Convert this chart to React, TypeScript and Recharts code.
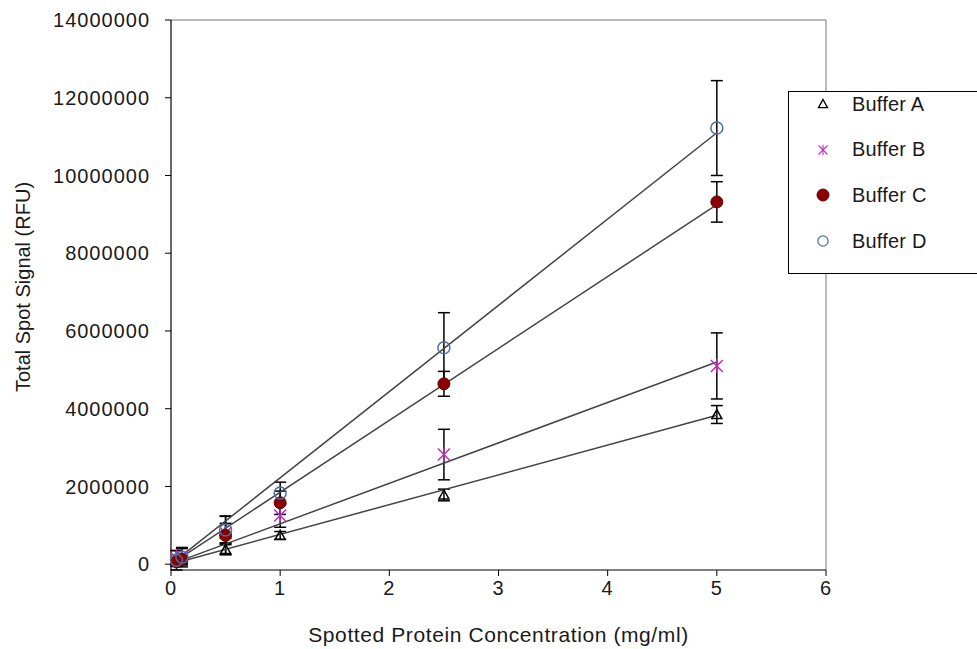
import React from 'react';
import {
  ComposedChart, Scatter, XAxis, YAxis, ErrorBar, ReferenceLine, Legend,
} from 'recharts';

const concentrations = [0.05, 0.1, 0.5, 1, 2.5, 5];

const bufferA = [40000, 80000, 380000, 740000, 1780000, 3850000];
const bufferAErr = [60000, 80000, 120000, 100000, 150000, 230000];
const bufferB = [150000, 200000, 800000, 1250000, 2820000, 5100000];
const bufferBErr = [200000, 200000, 250000, 300000, 650000, 850000];
const bufferC = [60000, 120000, 740000, 1580000, 4640000, 9320000];
const bufferCErr = [80000, 100000, 500000, 300000, 320000, 520000];
const bufferD = [100000, 180000, 880000, 1830000, 5570000, 11220000];
const bufferDErr = [250000, 250000, 350000, 280000, 900000, 1220000];

const fitX = [0, 5];
const fitA = [0, 3830000];
const fitB = [0, 5200000];
const fitC = [0, 9250000];
const fitD = [0, 11100000];

const xTicks = [0, 1, 2, 3, 4, 5, 6];
const yTicks = [0, 2000000, 4000000, 6000000, 8000000, 10000000, 12000000, 14000000];

const seriesNames = ['Buffer A', 'Buffer B', 'Buffer C', 'Buffer D'];

const build = (ys: number[], es: number[]) =>
  concentrations.map((x, i) => ({ x, y: ys[i], e: es[i] }));
const buildFit = (ys: number[]) => fitX.map((x, i) => ({ x, y: ys[i] }));

const FONT = '"Liberation Sans", Arial, sans-serif';
const TEXT = '#1a1a1a';

const Tri = ({ cx, cy }: any) => (
  <path d={`M${cx},${cy - 5} L${cx + 5},${cy + 4} L${cx - 5},${cy + 4} Z`} fill="none" stroke="#000" strokeWidth={1.5} />
);
const Star = ({ cx, cy }: any) => (
  <g stroke="#b530b5" strokeWidth={1.5}>
    <line x1={cx - 6} y1={cy - 6} x2={cx + 6} y2={cy + 6} />
    <line x1={cx - 6} y1={cy + 6} x2={cx + 6} y2={cy - 6} />
    <line x1={cx} y1={cy - 7} x2={cx} y2={cy + 7} />
  </g>
);
const Dot = ({ cx, cy }: any) => <circle cx={cx} cy={cy} r={6} fill="#8b0000" stroke="#6a0000" strokeWidth={1} />;
const Ring = ({ cx, cy }: any) => <circle cx={cx} cy={cy} r={6} fill="none" stroke="#4a6fa0" strokeWidth={1.5} />;
const NoShape = () => <g />;

const legendShapes = [Tri, Star, Dot, Ring];
const legendScale = [0.9, 0.75, 1, 0.85];

const LegendBox = () => (
  <div style={{
    width: 200, height: 181, border: '1px solid #000', background: '#fff',
    fontFamily: FONT, fontSize: 20, letterSpacing: 0.2, color: TEXT, position: 'relative',
  }}>
    {seriesNames.map((n, i) => {
      const Shape = legendShapes[i];
      const s = legendScale[i];
      return (
        <div key={n} style={{ position: 'absolute', left: 0, top: 1 + i * 45.7, height: 22, display: 'flex', alignItems: 'center' }}>
          <svg width={20} height={20} style={{ marginLeft: 24 }}>
            <g transform={`translate(10,10) scale(${s}) translate(-10,-10)`}>
              <Shape cx={10} cy={10} />
            </g>
          </svg>
          <span style={{ marginLeft: 19 }}>{n}</span>
        </div>
      );
    })}
  </div>
);

const YTitle = (p: any) => {
  const vb = p.viewBox || { x: 0, y: 0, width: 0, height: 0 };
  const cx = vb.x + 23;
  const cy = vb.y + vb.height / 2 - 8;
  return (
    <text x={cx} y={cy} transform={`rotate(-90 ${cx} ${cy})`} textAnchor="middle" dominantBaseline="central"
      style={{ fontFamily: FONT, fontSize: 20, fill: TEXT }}>
      Total Spot Signal (RFU)
    </text>
  );
};

export default function App() {
  const tickStyle = { fontFamily: FONT, fontSize: 20, fill: TEXT, letterSpacing: 1 };
  return (
    <div style={{ position: 'absolute', left: 0, top: 0, width: 977, height: 649, overflow: 'hidden', background: '#fff' }}>
      <ComposedChart width={977} height={649} margin={{ top: 20, right: 151, bottom: 0, left: 0 }}>
        <XAxis
          type="number" dataKey="x" domain={[0, 6]} ticks={xTicks} height={79}
          axisLine={{ stroke: '#000', strokeWidth: 1.2 }} tickLine={{ stroke: '#000' }}
          tickSize={6} tickMargin={5} tick={tickStyle}
          label={{ value: 'Spotted Protein Concentration (mg/ml)', position: 'insideBottom', offset: 7, style: { fontFamily: FONT, fontSize: 21, letterSpacing: 0.6, fill: TEXT } }}
        />
        <YAxis
          type="number" dataKey="y" domain={[0, 14000000]} ticks={yTicks} width={171}
          axisLine={{ stroke: '#000', strokeWidth: 1.2 }} tickLine={{ stroke: '#000' }}
          tickSize={6} tickMargin={15} tick={tickStyle} tickFormatter={(v: number) => String(v)}
          label={{ content: YTitle }}
        />
        <ReferenceLine y={14000000} stroke="#777" strokeWidth={1} />
        <ReferenceLine x={6} stroke="#777" strokeWidth={1} />
        <Legend
          layout="horizontal" verticalAlign="middle" align="center"
          wrapperStyle={{ left: 788, top: 91, width: 202, height: 183 }}
          content={() => <LegendBox />}
        />
        <Scatter data={buildFit(fitA)} shape={NoShape} line={{ stroke: '#444', strokeWidth: 1.5 }} lineType="joint" isAnimationActive={false} legendType="none" />
        <Scatter data={buildFit(fitB)} shape={NoShape} line={{ stroke: '#444', strokeWidth: 1.5 }} lineType="joint" isAnimationActive={false} legendType="none" />
        <Scatter data={buildFit(fitC)} shape={NoShape} line={{ stroke: '#444', strokeWidth: 1.5 }} lineType="joint" isAnimationActive={false} legendType="none" />
        <Scatter data={buildFit(fitD)} shape={NoShape} line={{ stroke: '#444', strokeWidth: 1.5 }} lineType="joint" isAnimationActive={false} legendType="none" />
        <Scatter name="Buffer A" data={build(bufferA, bufferAErr)} shape={Tri} isAnimationActive={false}>
          <ErrorBar dataKey="e" direction="y" width={6} stroke="#000" strokeWidth={1.5} />
        </Scatter>
        <Scatter name="Buffer B" data={build(bufferB, bufferBErr)} shape={Star} isAnimationActive={false}>
          <ErrorBar dataKey="e" direction="y" width={6} stroke="#000" strokeWidth={1.5} />
        </Scatter>
        <Scatter name="Buffer C" data={build(bufferC, bufferCErr)} shape={Dot} isAnimationActive={false}>
          <ErrorBar dataKey="e" direction="y" width={6} stroke="#000" strokeWidth={1.5} />
        </Scatter>
        <Scatter name="Buffer D" data={build(bufferD, bufferDErr)} shape={Ring} isAnimationActive={false}>
          <ErrorBar dataKey="e" direction="y" width={6} stroke="#000" strokeWidth={1.5} />
        </Scatter>
      </ComposedChart>
    </div>
  );
}
